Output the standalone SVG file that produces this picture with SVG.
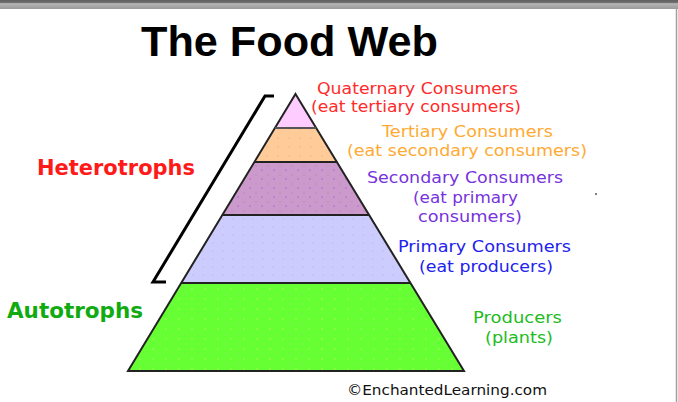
<svg xmlns="http://www.w3.org/2000/svg" width="678" height="402" viewBox="0 0 678 402">
  <defs>
    <linearGradient id="topbar" x1="0" y1="0" x2="0" y2="1">
      <stop offset="0" stop-color="#5e5e5e"/>
      <stop offset="0.3" stop-color="#707070"/>
      <stop offset="0.4" stop-color="#b4b4b4"/>
      <stop offset="1" stop-color="#9a9a9a"/>
    </linearGradient>
    <pattern id="dotsOrange" width="11" height="9" patternUnits="userSpaceOnUse">
      <circle cx="3" cy="3" r="0.8" fill="#f4a48a"/>
    </pattern>
    <pattern id="dotsPurple" width="12" height="9" patternUnits="userSpaceOnUse">
      <circle cx="4" cy="4" r="0.8" fill="#a58aa5"/>
      <circle cx="10" cy="8" r="0.7" fill="#8844cc"/>
    </pattern>
    <pattern id="dotsBlue" width="10" height="8" patternUnits="userSpaceOnUse">
      <circle cx="3" cy="3" r="0.8" fill="#d9a6e0"/>
    </pattern>
    <pattern id="dotsGreen" width="13" height="10" patternUnits="userSpaceOnUse">
      <circle cx="4" cy="4" r="0.8" fill="#9adf7a"/>
      <circle cx="10" cy="9" r="0.8" fill="#d8e86a"/>
    </pattern>
  </defs>
  <style>
    .lbl { font-family: "DejaVu Sans", Verdana, sans-serif; font-size: 15px; }
    .big { font-family: "DejaVu Sans", Verdana, sans-serif; font-size: 22px; font-weight: bold; }
    .edge { stroke: #222; stroke-width: 2; stroke-linejoin: miter; }
  </style>

  <rect x="0" y="0" width="678" height="402" fill="#ffffff"/>
  <rect x="0" y="0" width="678" height="9" fill="url(#topbar)"/>
  <line x1="676.5" y1="9" x2="676.5" y2="402" stroke="#a0a0a0" stroke-width="1.5"/>

  <text x="141" y="56" font-family="Liberation Sans, Arial, sans-serif" font-size="42" font-weight="bold" fill="#000" textLength="297" lengthAdjust="spacingAndGlyphs">The Food Web</text>

  <g id="producers">
    <polygon points="181.2,283 410.5,283 464,371 128,371" fill="#66ff33"/>
    <polygon points="181.2,283 410.5,283 464,371 128,371" fill="url(#dotsGreen)" opacity="0.7"/>
  </g>
  <g id="primary">
    <polygon points="222.3,215 369.1,215 410.5,283 181.2,283" fill="#ccccff"/>
    <polygon points="222.3,215 369.1,215 410.5,283 181.2,283" fill="url(#dotsBlue)" opacity="0.7"/>
  </g>
  <g id="secondary">
    <polygon points="254.4,162 336.9,162 369.1,215 222.3,215" fill="#cc99cc"/>
    <polygon points="254.4,162 336.9,162 369.1,215 222.3,215" fill="url(#dotsPurple)" opacity="0.7"/>
  </g>
  <g id="tertiary">
    <polygon points="274.9,128 316.2,128 336.9,162 254.4,162" fill="#ffcc99"/>
    <polygon points="274.9,128 316.2,128 336.9,162 254.4,162" fill="url(#dotsOrange)" opacity="0.7"/>
  </g>
  <g id="quaternary">
    <polygon points="295.5,94 316.2,128 274.9,128" fill="#ffccff"/>
  </g>

  <g id="pyramid-lines" fill="none" class="edge">
    <polygon points="295.5,94 464,371 128,371"/>
    <line x1="274.9" y1="128" x2="316.2" y2="128" stroke="#555"/>
    <line x1="254.4" y1="162" x2="336.9" y2="162"/>
    <line x1="222.3" y1="215" x2="369.1" y2="215"/>
    <line x1="181.2" y1="283" x2="410.5" y2="283"/>
  </g>

  <g id="connectors">
    <polyline points="274,96 265,96 153,282 166,282" fill="none" stroke="#000" stroke-width="3"/>
  </g>

  <g id="heterotrophs">
    <text class="big" x="37" y="175" fill="#ff1a1a" textLength="158" lengthAdjust="spacingAndGlyphs">Heterotrophs</text>
  </g>
  <g id="autotrophs">
    <text class="big" x="7" y="318" fill="#11aa11" textLength="136" lengthAdjust="spacingAndGlyphs">Autotrophs</text>
  </g>

  <g id="label-quaternary" fill="#ff2a2a">
    <text class="lbl" x="317" y="94" textLength="201" lengthAdjust="spacingAndGlyphs">Quaternary Consumers</text>
    <text class="lbl" x="311" y="112" textLength="210" lengthAdjust="spacingAndGlyphs">(eat tertiary consumers)</text>
  </g>
  <g id="label-tertiary" fill="#ffaa33">
    <text class="lbl" x="382" y="137" textLength="171" lengthAdjust="spacingAndGlyphs">Tertiary Consumers</text>
    <text class="lbl" x="347" y="156" textLength="240" lengthAdjust="spacingAndGlyphs">(eat secondary consumers)</text>
  </g>
  <g id="label-secondary" fill="#7733dd">
    <text class="lbl" x="367" y="183" textLength="196" lengthAdjust="spacingAndGlyphs">Secondary Consumers</text>
    <text class="lbl" x="413" y="203" textLength="105" lengthAdjust="spacingAndGlyphs">(eat primary</text>
    <text class="lbl" x="418" y="222" textLength="104" lengthAdjust="spacingAndGlyphs">consumers)</text>
  </g>
  <g id="label-primary" fill="#2222ee">
    <text class="lbl" x="398" y="252" textLength="173" lengthAdjust="spacingAndGlyphs">Primary Consumers</text>
    <text class="lbl" x="419" y="272" textLength="134" lengthAdjust="spacingAndGlyphs">(eat producers)</text>
  </g>
  <g id="label-producers" fill="#22bb22">
    <text class="lbl" x="473" y="323" textLength="89" lengthAdjust="spacingAndGlyphs">Producers</text>
    <text class="lbl" x="485" y="343" textLength="68" lengthAdjust="spacingAndGlyphs">(plants)</text>
  </g>

  <text x="347" y="395" font-family="DejaVu Sans, Verdana, sans-serif" font-size="14" fill="#111" textLength="200" lengthAdjust="spacingAndGlyphs">©EnchantedLearning.com</text>
  <circle cx="596" cy="194" r="0.9" fill="#444"/>
</svg>
